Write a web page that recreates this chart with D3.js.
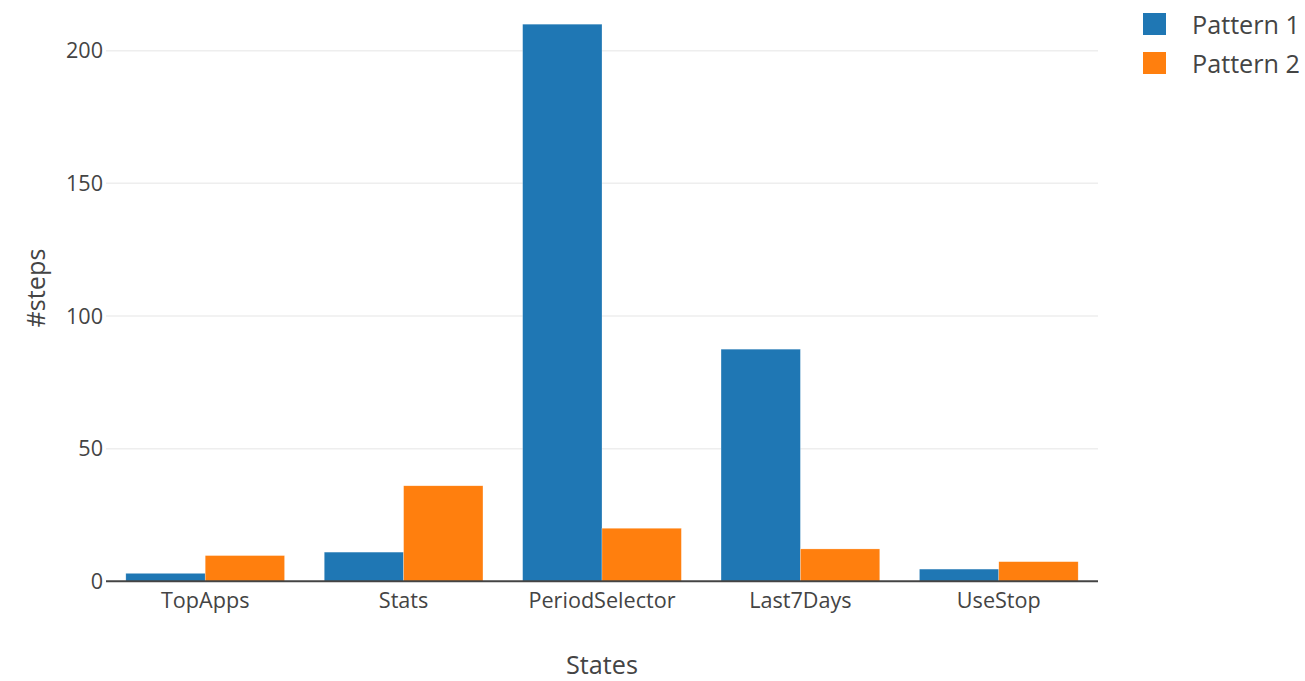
<!DOCTYPE html>
<html>
<head>
<meta charset="utf-8">
<script src="https://cdn.jsdelivr.net/npm/d3@7"></script>
<style>
  body { margin: 0; background: #fff; }
  text { font-family: "Open Sans", sans-serif; fill: #444; }
</style>
</head>
<body>
<div id="chart"></div>
<script>
// data
var states = ["TopApps", "Stats", "PeriodSelector", "Last7Days", "UseStop"];
var seriesNames = ["Pattern 1", "Pattern 2"];
var pattern1 = [3, 11, 210, 87.5, 4.6];
var pattern2 = [9.7, 36, 20, 12.2, 7.4];
var yTicks = [0, 50, 100, 150, 200];

var width = 1305, height = 681;
var colors = ["#1f77b4", "#ff7f0e"];

var svg = d3.select('#chart')
    .append('svg')
    .attr('width', width)
    .attr('height', height);

var x = d3.scaleBand()
    .domain(states)
    .range([106, 1098])
    .paddingInner(0.2)
    .paddingOuter(0.1);

var xSub = d3.scaleBand()
    .domain(seriesNames)
    .range([0, x.bandwidth()]);

var y = d3.scaleLinear()
    .domain([0, 200])
    .range([581.3, 50.7]);

// gridlines
svg.append('g')
    .selectAll('line')
    .data(yTicks.slice(1))
    .enter()
    .append('line')
    .attr('x1', 106)
    .attr('x2', 1098)
    .attr('y1', function (d) { return y(d); })
    .attr('y2', function (d) { return y(d); })
    .attr('stroke', '#eee')
    .attr('stroke-width', 1.5);

var rows = states.map(function (s, i) {
  return { state: s, values: [pattern1[i], pattern2[i]] };
});

var groups = svg.selectAll('.grp')
    .data(rows)
    .enter()
    .append('g')
    .attr('transform', function (d) { return 'translate(' + x(d.state) + ',0)'; });

groups.selectAll('rect')
    .data(function (d) { return d.values.map(function (v, i) { return { k: seriesNames[i], v: v, i: i }; }); })
    .enter()
    .append('rect')
    .attr('x', function (d) { return xSub(d.k); })
    .attr('width', xSub.bandwidth())
    .attr('y', function (d) { return y(d.v); })
    .attr('height', function (d) { return y(0) - y(d.v); })
    .attr('fill', function (d) { return colors[d.i]; })
    .attr('stroke', '#fff')
    .attr('stroke-opacity', 0.5)
    .attr('stroke-width', 0.5);

// zero line
svg.append('line')
    .attr('x1', 106)
    .attr('x2', 1098)
    .attr('y1', y(0))
    .attr('y2', y(0))
    .attr('stroke', '#444')
    .attr('stroke-width', 2);

// y tick labels
svg.append('g')
    .selectAll('text')
    .data(yTicks)
    .enter()
    .append('text')
    .attr('x', 103)
    .attr('y', function (d) { return y(d); })
    .attr('dy', '0.35em')
    .attr('text-anchor', 'end')
    .attr('font-size', 21.6)
    .text(function (d) { return d; });

// x tick labels
svg.append('g')
    .selectAll('text')
    .data(states)
    .enter()
    .append('text')
    .attr('x', function (d) { return x(d) + x.bandwidth() / 2; })
    .attr('y', 608)
    .attr('text-anchor', 'middle')
    .attr('font-size', 21.6)
    .text(function (d) { return d; });

// axis titles
svg.append('text')
    .attr('x', 602)
    .attr('y', 674)
    .attr('text-anchor', 'middle')
    .attr('font-size', 25.2)
    .text('States');

svg.append('text')
    .attr('transform', 'translate(45,288) rotate(-90)')
    .attr('text-anchor', 'middle')
    .attr('font-size', 25.2)
    .text('#steps');

// legend
var legend = svg.selectAll('.legend')
    .data(seriesNames)
    .enter()
    .append('g')
    .attr('transform', function (d, i) { return 'translate(1143,' + (13 + i * 39) + ')'; });

legend.append('rect')
    .attr('width', 23)
    .attr('height', 22)
    .attr('fill', function (d, i) { return colors[i]; });

legend.append('text')
    .attr('x', 49)
    .attr('y', 21)
    .attr('font-size', 25.2)
    .text(function (d) { return d; });
</script>
</body>
</html>
